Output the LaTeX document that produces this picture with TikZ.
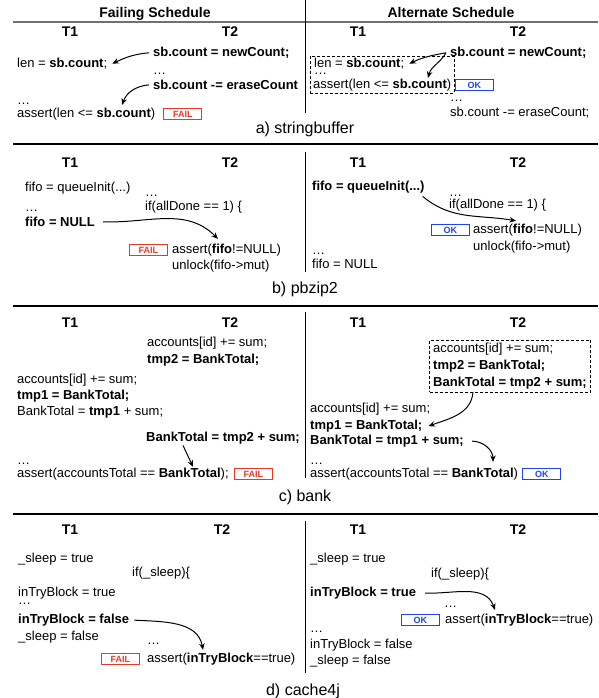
\documentclass[tikz,border=0pt]{standalone}
\usepackage{fontspec}
\setmainfont{Liberation Sans}
\usetikzlibrary{arrows.meta,positioning,fit}
\definecolor{failred}{RGB}{236,54,38}
\definecolor{okblue}{RGB}{30,68,244}
\definecolor{rulegray}{RGB}{112,112,112}

\begin{document}
\begin{tikzpicture}[x=1pt, y=-1pt, node distance=4pt,
    every node/.style={font=\fontsize{13}{15}\selectfont, inner sep=0pt},
    code/.style={anchor=base west},
    thread/.style={anchor=base, font=\fontsize{14}{16}\selectfont\bfseries},
    caption/.style={anchor=base, font=\fontsize{16}{18}\selectfont},
    verdict/.style={draw, line width=1.1pt, minimum width=38pt, minimum height=11.5pt, font=\fontsize{9}{10}\selectfont\bfseries},
    fail/.style={verdict, draw=failred, text=failred},
    ok/.style={verdict, draw=okblue, text=okblue},
    region/.style={draw, dash pattern=on 3pt off 2pt, line width=0.7pt},
    hb/.style={-{Stealth[length=6.5pt,width=5.5pt]}, line width=1pt}]
    \useasboundingbox (0,0) rectangle (598,698);
    \node[thread] (failhead) at (155,18) {Failing Schedule};
    \node[thread] (althead) at (451,18) {Alternate Schedule};
    \draw[rulegray, line width=1.2pt] (13,22) -- (598,22);
    \foreach \y in {144,306,514} \draw[line width=2.2pt] (13,\y) -- (598,\y);
    \foreach \t/\b in {0/113,152/272,312/478,521/673} \draw[line width=1pt] (305,\t) -- (305,\b);
    \foreach \p/\y/\u in {a/37/230,b/167/230,c/327/230,d/534/222} {
      \node[thread] (\p ft1) at (70,\y) {T1};
      \node[thread] (\p ft2) at (\u,\y) {T2};
      \node[thread] (\p at1) at (358,\y) {T1};
      \node[thread] (\p at2) at (518,\y) {T2};
    }

    \node[code] (aFnew) at (153,56.5) {\textbf{sb.count = newCount;}};
    \node[code] (aFlen) at (17,67.5) {len = \textbf{sb.count};};
    \node[code] (aFdots1) at (153,74.5) {…};
    \node[code] (aFerase) at (153,89.5) {\textbf{sb.count -= eraseCount}};
    \node[code] (aFdots2) at (17,105) {…};
    \node[code] (aFassert) at (17,117.5) {assert(len <= \textbf{sb.count})};
    \node[fail, right=8pt of aFassert] (aFfail) {FAIL};
    \draw[hb] ([xshift=-4pt]aFnew.west) to[out=185, in=25] ([xshift=5pt]aFlen.east);
    \draw[hb] ([xshift=-4pt]aFerase.west) to[out=185, in=70] ([xshift=105pt,yshift=3pt]aFassert.north west);

    \node[code] (aAnew) at (450,56.5) {\textbf{sb.count = newCount;}};
    \node[code] (aAlen) at (314,67.5) {len = \textbf{sb.count};};
    \node[code] (aAdots1) at (314,74.5) {…};
    \node[code] (aAassert) at (313,88.5) {assert(len <= \textbf{sb.count})};
    \node[region, fit=(aAlen)(aAassert), inner xsep=3pt, inner ysep=1.5pt] (aAbox) {};
    \node[ok, anchor=west] (aAok) at (aAbox.east |- aAassert.east) {OK};
    \node[code] (aAdots2) at (450,102) {…};
    \node[code] (aAerase) at (450,116.5) {sb.count -= eraseCount;};
    \draw[hb] ([xshift=-4pt]aAnew.west) to[out=190, in=25] ([xshift=5pt]aAlen.east);
    \draw[hb] ([xshift=-4pt]aAnew.west) to[out=240, in=75] ([xshift=115pt,yshift=1pt]aAassert.north west);
    \node[caption] (capa) at (305,133) {a) stringbuffer};

    \node[code] (bFinit) at (25,191.5) {fifo = queueInit(...)};
    \node[code] (bFdots1) at (145,196) {…};
    \node[code] (bFif) at (145,210.5) {if(allDone == 1) \{};
    \node[code] (bFdots2) at (25,211) {…};
    \node[code] (bFnull) at (25,226.5) {\textbf{fifo = NULL}};
    \node[code] (bFassert) at (172,253.5) {assert(\textbf{fifo}!=NULL)};
    \node[code] (bFunlock) at (172,269.5) {unlock(fifo->mut)};
    \node[fail, left=4pt of bFassert] (bFfail) {FAIL};
    \draw[hb] ([xshift=8pt]bFnull.east) to[out=-2, in=135] ([xshift=46pt,yshift=5pt]bFassert.north west);

    \node[code] (bAinit) at (312,190.5) {\textbf{fifo = queueInit(...)}};
    \node[code] (bAdots1) at (449,196) {…};
    \node[code] (bAif) at (449,208.5) {if(allDone == 1) \{};
    \node[code] (bAassert) at (473,233.5) {assert(\textbf{fifo}!=NULL)};
    \node[code] (bAunlock) at (473,250.5) {unlock(fifo->mut)};
    \node[ok, left=3pt of bAassert] (bAok) {OK};
    \node[code] (bAdots2) at (312,254) {…};
    \node[code] (bAnull) at (312,268.5) {fifo = NULL};
    \draw[hb] ([xshift=-2pt,yshift=-3pt]bAinit.south east) to[out=-40, in=170] ([xshift=43pt,yshift=3pt]bAassert.north west);
    \node[caption] (capb) at (305,293.5) {b) pbzip2};

    \node[code] (cFacc2) at (147,346.5) {accounts[id] += sum;};
    \node[code] (cFtmp2) at (147,363.5) {\textbf{tmp2 = BankTotal;}};
    \node[code] (cFacc1) at (17,383.5) {accounts[id] += sum;};
    \node[code] (cFtmp1) at (17,399.5) {\textbf{tmp1 = BankTotal;}};
    \node[code] (cFbank1) at (17,415.5) {BankTotal = \textbf{tmp1} + sum;};
    \node[code] (cFbank2) at (146,441.5) {\textbf{BankTotal = tmp2 + sum;}};
    \node[code] (cFdots) at (17,464) {…};
    \node[code] (cFassert) at (17,477.5) {assert(accountsTotal == \textbf{BankTotal});};
    \node[fail, right=5pt of cFassert] (cFfail) {FAIL};
    \draw[hb] ([xshift=37pt,yshift=-1pt]cFbank2.south west) -- ([xshift=176pt,yshift=1pt]cFassert.north west);

    \node[code] (cAacc2) at (433,352.5) {accounts[id] += sum;};
    \node[code] (cAtmp2) at (433,369.5) {\textbf{tmp2 = BankTotal;}};
    \node[code] (cAbank2) at (433,386) {\textbf{BankTotal = tmp2 + sum;}};
    \node[region, fit=(cAacc2)(cAtmp2)(cAbank2), inner xsep=3.5pt, inner ysep=3pt] (cAbox) {};
    \node[code] (cAacc1) at (310,412.5) {accounts[id] += sum;};
    \node[code] (cAtmp1) at (310,429.5) {\textbf{tmp1 = BankTotal;}};
    \node[code] (cAbank1) at (310,444.5) {\textbf{BankTotal = tmp1 + sum;}};
    \node[code] (cAdots) at (310,464) {…};
    \node[code] (cAassert) at (310,477.5) {assert(accountsTotal == \textbf{BankTotal})};
    \node[ok, right=4pt of cAassert] (cAok) {OK};
    \draw[hb] ([xshift=-37pt]cAbox.south) to[out=265, in=20] ([xshift=6pt]cAtmp1.east);
    \draw[hb] ([xshift=8pt]cAbank1.east) to[out=0, in=90] ([xshift=183pt,yshift=6pt]cAassert.north west);
    \node[caption] (capc) at (305,501) {c) bank};

    \node[code] (dFsleep) at (18,562.5) {\_sleep = true};
    \node[code] (dFif) at (132,576.5) {if(\_sleep)\{};
    \node[code] (dFtry) at (18,596.5) {inTryBlock = true};
    \node[code] (dFdots1) at (18,604) {…};
    \node[code] (dFfalse) at (18,623.5) {\textbf{inTryBlock = false}};
    \node[code] (dFsleepf) at (18,640.5) {\_sleep = false};
    \node[code] (dFdots2) at (147,644) {…};
    \node[code] (dFassert) at (147,662.5) {assert(\textbf{inTryBlock}==true)};
    \node[fail, left=7pt of dFassert] (dFfail) {FAIL};
    \draw[hb] ([xshift=5pt]dFfalse.east) to[out=-3, in=100] ([xshift=56pt,yshift=3pt]dFassert.north west);

    \node[code] (dAsleep) at (310,562.5) {\_sleep = true};
    \node[code] (dAif) at (431,577.5) {if(\_sleep)\{};
    \node[code] (dAtry) at (310,596.5) {\textbf{inTryBlock = true}};
    \node[code] (dAdots1) at (444,607) {…};
    \node[code] (dAassert) at (445,623.5) {assert(\textbf{inTryBlock}==true)};
    \node[ok, left=5pt of dAassert] (dAok) {OK};
    \node[code] (dAdots2) at (310,632) {…};
    \node[code] (dAfalse) at (310,648.5) {inTryBlock = false};
    \node[code] (dAsleepf) at (310,664.5) {\_sleep = false};
    \draw[hb] ([xshift=9pt]dAtry.east) to[out=-2, in=110] ([xshift=50pt,yshift=4pt]dAassert.north west);
    \node[caption] (capd) at (303,695) {d) cache4j};
  \end{tikzpicture}
\end{document}
